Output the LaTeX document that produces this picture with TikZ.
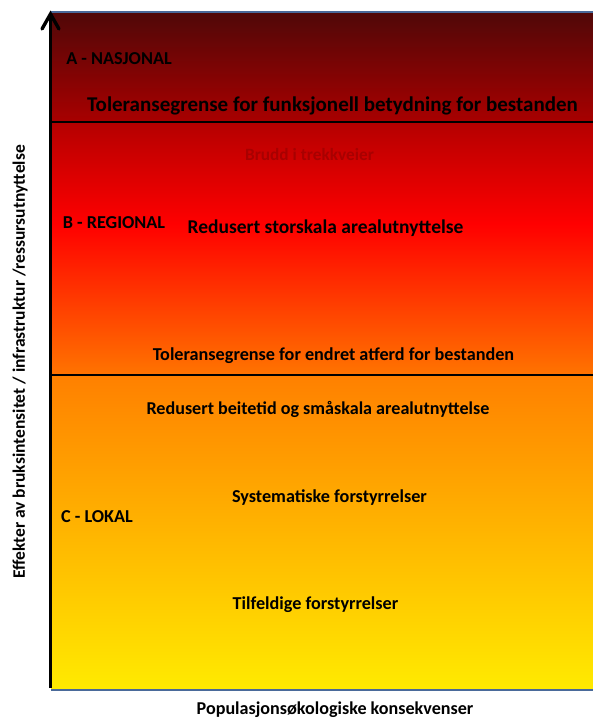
\documentclass[tikz,border=0pt]{standalone}
\usepackage{fontspec}
\setmainfont{Carlito}
\usetikzlibrary{arrows.meta}
\definecolor{cA}{HTML}{500808}
\definecolor{cB}{HTML}{A80000}
\definecolor{cC}{HTML}{B40000}
\definecolor{cD}{HTML}{FF0000}
\definecolor{cE}{HTML}{FF7400}
\definecolor{cF}{HTML}{FF8000}
\definecolor{cG}{HTML}{FFEA00}
\definecolor{frameblue}{HTML}{4A6A9A}
\definecolor{faintred}{HTML}{A80000}
\tikzset{
  lbl/.style={font=\bfseries\fontsize{#1}{#1}\selectfont, inner sep=0pt, anchor=center},
  lbl/.default=14,
  sepline/.style={line width=2.2pt, black},
  axisline/.style={line width=3.4pt, black},
}
\begin{document}
\begin{tikzpicture}[x=1pt,y=-1pt]
\useasboundingbox (0,0) rectangle (593,720);
% gradient bands
\shade[top color=cA, bottom color=cB] (51,12) rectangle (593,122);
\shade[top color=cC, bottom color=cD] (51,122) rectangle (593,224);
\shade[top color=cD, bottom color=cE] (51,224) rectangle (593,375);
\shade[top color=cF, bottom color=cG] (51,375) rectangle (593,688);
% frame lines
\coordinate (tl) at (51,12);
\coordinate (tr) at (593,12);
\coordinate (bl) at (51,688.5);
\coordinate (br) at (593,688.5);
\draw[frameblue, line width=2pt] (tl) -- (tr);
\draw[frameblue, line width=2pt] ([yshift=-1.5]bl) -- ([yshift=-1.5]br);
\coordinate (l1a) at (51,122); \coordinate (l1b) at (593,122);
\coordinate (l2a) at (51,375); \coordinate (l2b) at (593,375);
\draw[sepline] (l1a) -- (l1b);
\draw[sepline] (l2a) -- (l2b);
% axis
\coordinate (ax0) at (50.5,688);
\coordinate (ax1) at (50.5,14);
\coordinate (wl) at (42,29);
\coordinate (wr) at (59,29);
\draw[axisline] (ax0) -- (ax1);
\draw[axisline, line cap=round, line join=miter] (wl) -- (ax1) -- (wr);
% labels
\node[lbl=18.2] (na) at (119,59) {A - NASJONAL};
\node[lbl=21] (tf) at (332.5,106) {Toleransegrense for funksjonell betydning for bestanden};
\node[lbl=17.3, text=faintred] (bt) at (309.5,154) {Brudd i trekkveier};
\node[lbl=18.2] (nb) at (114,223) {B - REGIONAL};
\node[lbl=19.5] (rs) at (325.5,228) {Redusert storskala arealutnyttelse};
\node[lbl=18.2] (te) at (333.5,356) {Toleransegrense for endret atferd for bestanden};
\node[lbl=18.1] (rb) at (318,409) {Redusert beitetid og småskala arealutnyttelse};
\node[lbl=18.2] (sf) at (329.5,498) {Systematiske forstyrrelser};
\node[lbl=18.2] (nc) at (97,517) {C - LOKAL};
\node[lbl=18.2] (tfo) at (315.5,605) {Tilfeldige forstyrrelser};
\node[lbl=17.5, rotate=90] (yl) at (20,362) {Effekter av bruksintensitet / infrastruktur /ressursutnyttelse};
\node[lbl=18.1] (xl) at (335,710) {Populasjonsøkologiske konsekvenser};
\end{tikzpicture}
\end{document}
